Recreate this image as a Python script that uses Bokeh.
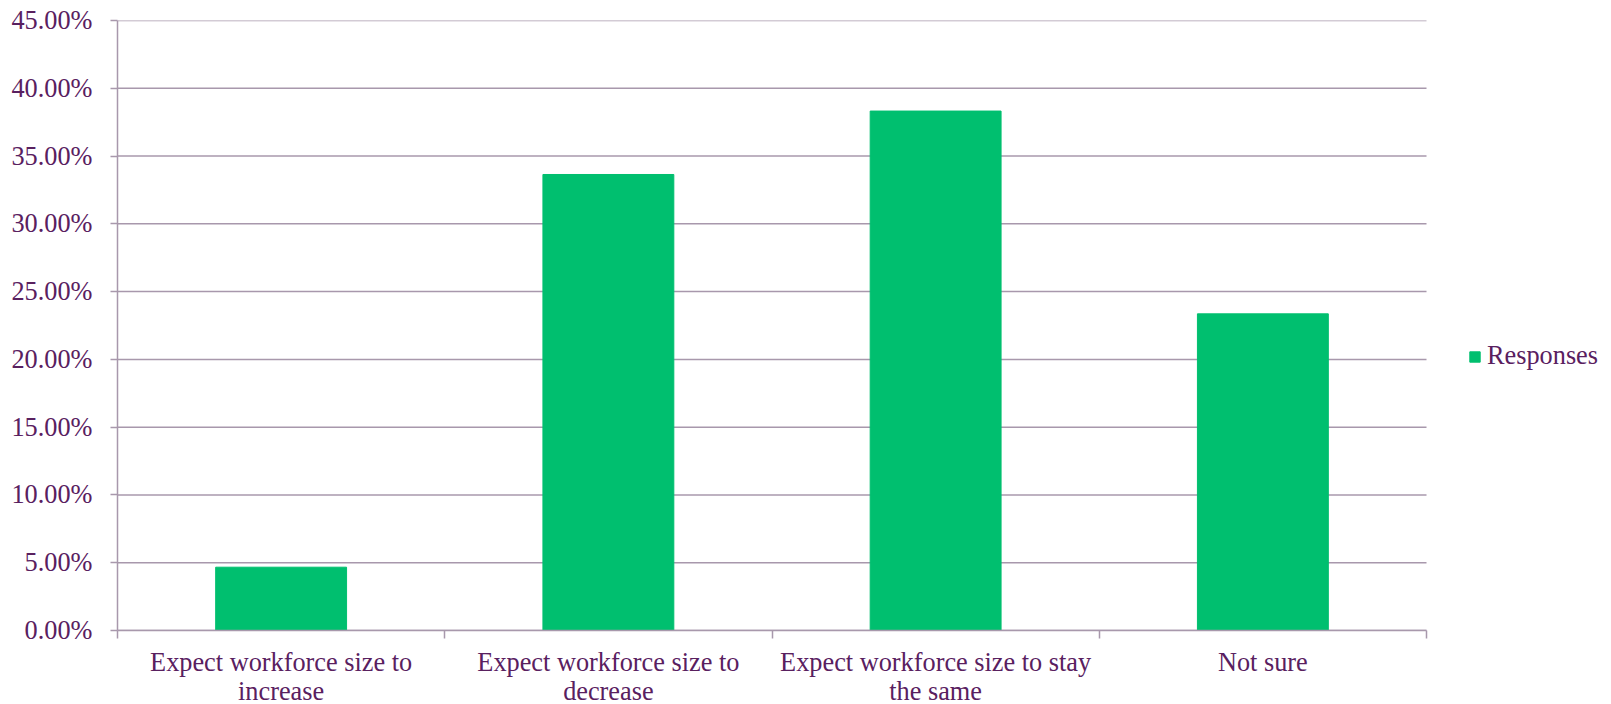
from bokeh.plotting import figure
from bokeh.models import ColumnDataSource, FixedTicker, PrintfTickFormatter, Range1d, Legend, LegendItem
from bokeh.embed import file_html
from bokeh.resources import INLINE

# ---- data ----
categories = [
    "Expect workforce size to\nincrease",
    "Expect workforce size to\ndecrease",
    "Expect workforce size to stay\nthe same",
    "Not sure",
]
responses = [4.67, 33.64, 38.32, 23.36]
y_ticks = [0, 5, 10, 15, 20, 25, 30, 35, 40, 45]
series_name = "Responses"

# ---- styles / layout ----
TEXT = "#59205F"
GRID = "#A898AC"
BAR = "#00BF6F"
FONT = "Liberation Serif"
FS = "26.3px"
W, H = 1611, 709
LEFT, TOP, BOTTOM = 117, 20, 79
PLOT_W = 1309  # width of the category area in px

n = len(categories)
xs = [i + 0.5 for i in range(n)]
boundaries = [i for i in range(n + 1)]
x_end = n * (W - LEFT) / PLOT_W

p = figure(width=W, height=H, output_backend="svg", toolbar_location=None,
           x_range=Range1d(0, x_end), y_range=Range1d(y_ticks[0], y_ticks[-1]),
           min_border_left=LEFT, min_border_right=0, min_border_top=TOP, min_border_bottom=BOTTOM)
p.outline_line_color = None
p.background_fill_color = "white"
p.border_fill_color = "white"

# horizontal gridlines limited to the category area
grid_src = ColumnDataSource(dict(x0=[0] * len(y_ticks), x1=[n] * len(y_ticks), y=y_ticks))
p.segment(x0="x0", x1="x1", y0="y", y1="y", source=grid_src, line_color=GRID, line_width=1.5)

src = ColumnDataSource(dict(x=xs, y=responses))
r = p.vbar(x="x", top="y", width=0.4, source=src, fill_color=BAR, line_color=BAR)

p.xgrid.visible = False
p.ygrid.visible = False

# y axis
ya = p.yaxis[0]
ya.ticker = FixedTicker(ticks=y_ticks)
ya.formatter = PrintfTickFormatter(format="%.2f%%")
ya.axis_line_color = GRID
ya.axis_line_width = 1.5
ya.major_tick_line_color = GRID
ya.major_tick_line_width = 1.5
ya.major_tick_out = 7
ya.major_tick_in = 0
ya.minor_tick_line_color = None
ya.major_label_standoff = 18
ya.major_label_text_font = FONT
ya.major_label_text_font_size = FS
ya.major_label_text_color = TEXT

# x axis
xa = p.xaxis[0]
xa.bounds = (0, n)
xa.ticker = FixedTicker(ticks=xs, minor_ticks=boundaries)
xa.major_label_overrides = {x: lab for x, lab in zip(xs, categories)}
xa.axis_line_color = GRID
xa.axis_line_width = 1.5
xa.major_tick_line_color = None
xa.major_tick_out = 0
xa.major_tick_in = 0
xa.minor_tick_line_color = GRID
xa.minor_tick_line_width = 1.5
xa.minor_tick_out = 8
xa.minor_tick_in = 0
xa.major_label_standoff = 9
xa.major_label_text_font = FONT
xa.major_label_text_font_size = FS
xa.major_label_text_color = TEXT
xa.major_label_text_line_height = 1.03

legend = Legend(items=[LegendItem(label=series_name, renderers=[r])],
                location=(1468 - LEFT, 259), glyph_width=13, glyph_height=13,
                label_text_font=FONT, label_text_font_size=FS, label_text_color=TEXT,
                border_line_color=None, background_fill_alpha=0,
                padding=0, margin=0, spacing=0, label_standoff=6)
p.add_layout(legend)

open("out.html", "w").write(file_html(p, INLINE))
